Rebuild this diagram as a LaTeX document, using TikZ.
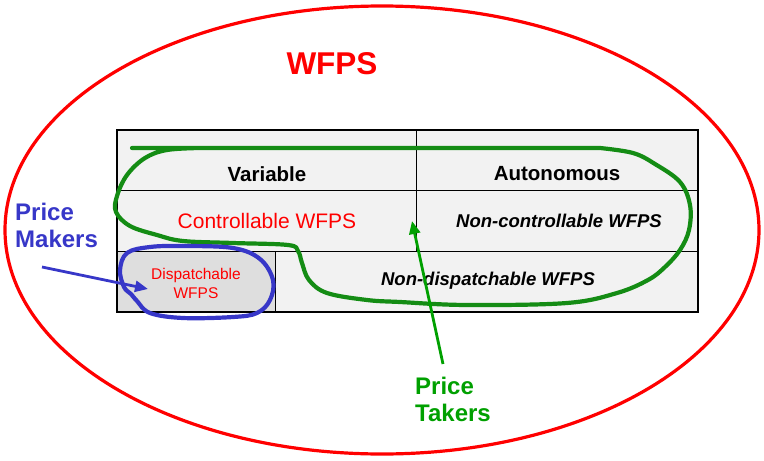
\documentclass[tikz,border=0pt]{standalone}
\usepackage{fontspec}
\setmainfont{Liberation Sans}
\usetikzlibrary{arrows.meta}
\definecolor{wred}{RGB}{255,0,0}
\definecolor{wgreen}{RGB}{20,140,20}
\definecolor{tgreen}{RGB}{0,160,0}
\definecolor{wblue}{RGB}{55,55,200}
\definecolor{cellA}{RGB}{242,242,242}
\definecolor{cellB}{RGB}{222,222,222}
\tikzset{
  cell/.style={draw=black, line width=0.8pt, fill=cellA},
  nitalic/.style={font=\fontsize{18.5}{22}\selectfont\bfseries\itshape},
  loopline/.style={line width=4.2pt, line cap=round, line join=round},
  arr/.style={line width=2.8pt, -{Triangle[length=13pt,width=11pt]}},
  lbl/.style={font=\fontsize{24}{28}\selectfont\bfseries, align=left, inner sep=0pt}
}
\begin{document}
\begin{tikzpicture}[x=1pt,y=-1pt]
\useasboundingbox (0,0) rectangle (764,461);
% ellipse
\draw[wred, line width=3.2pt] (382,230) ellipse [x radius=377, y radius=224];
\node[text=wred, font=\fontsize{31.5}{34}\selectfont\bfseries] (title) at (332,64) {WFPS};
% table cells
\draw[cell] (117,130) rectangle (416,190);
\draw[cell] (416,130) rectangle (698,190);
\draw[cell] (117,190) rectangle (416,251);
\draw[cell] (416,190) rectangle (698,251);
\draw[cell, fill=cellB] (117,251) rectangle (275,312);
\draw[cell] (275,251) rectangle (698,312);
\draw[line width=2pt] (117,130) rectangle (698,312);
% texts
\node[font=\fontsize{20.5}{24}\selectfont\bfseries] (var) at (267,174) {Variable};
\node[font=\fontsize{20.5}{24}\selectfont\bfseries] (aut) at (557,174) {Autonomous};
\node[text=wred, font=\fontsize{21}{24}\selectfont] (ctrl) at (267,221) {Controllable WFPS};
\node[nitalic] (nctrl) at (559,221) {Non-controllable WFPS};
\node[nitalic] (ndisp) at (488,281) {Non-dispatchable WFPS};
\node[text=wred, font=\fontsize{15.5}{18}\selectfont, align=center] (disp) at (196,283) {Dispatchable\\[1pt]WFPS};
% green loop
\draw[wgreen, loopline] (132,148) -- (600,148)
  plot[smooth, tension=0.6] coordinates {(600,148) (633,153) (655,164) (680,182) (690,205) (689,230) (680,250) (665,267) (648,280) (617,293) (567,303) (467,305) (400,302) (367,300) (327,293) (309,280) (302,263) (298,251) (288,245) (233,243) (183,241) (157,235) (130,226) (116,212) (117,196) (127,175) (145,158) (167,150) (200,148)};
% blue loop
\draw[wblue, loopline] plot[smooth cycle, tension=0.6] coordinates {(127,253) (150,247) (183,246) (233,248) (260,259) (273,280) (270,300) (257,313) (233,317) (183,318) (150,313) (137,301) (131,294) (124,287) (120,270)};
% labels
\node[lbl, text=wblue, anchor=north west] (pm) at (15,203) {Price\\[-1pt]Makers};
\node[lbl, text=tgreen, anchor=north west] (pt) at (415,377) {Price\\[-1pt]Takers};
\coordinate (pmtail) at (42,267);
\coordinate (pmtip) at (148,289);
\coordinate (pttail) at (443,364);
\coordinate (pttip) at (412,221);
\draw[wblue, arr] (pmtail) -- (pmtip);
\draw[tgreen, arr] (pttail) -- (pttip);
\end{tikzpicture}
\end{document}
